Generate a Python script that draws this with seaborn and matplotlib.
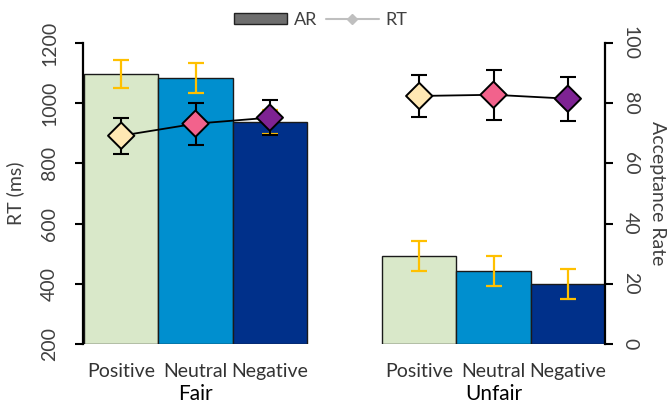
import numpy as np
import pandas as pd
import matplotlib
matplotlib.use("Agg")
import matplotlib.pyplot as plt
import seaborn as sns
from matplotlib.patches import Patch
from matplotlib.lines import Line2D

sns.set_style("white")
plt.rcParams['font.family'] = ['Lato', 'DejaVu Sans']

conditions = ["Fair", "Unfair"]
valences = ["Positive", "Neutral", "Negative"]
ar_fair = [89.7, 88.4, 73.8]
ar_unfair = [29.1, 24.2, 19.9]
ar_err_fair = [4.5, 5.0, 4.0]
ar_err_unfair = [5.0, 5.0, 5.0]
rt_fair = [892, 932, 952]
rt_unfair = [1024, 1028, 1015]
rt_err_fair = [60, 70, 58]
rt_err_unfair = [70, 83, 73]

bar_colors = ["#D9E8C9", "#008FCF", "#00308A"]
marker_colors = ["#FFE8B3", "#F2628C", "#7E2393"]

df = pd.DataFrame({
    "cond": np.repeat(conditions, 3),
    "val": valences * 2,
    "AR": ar_fair + ar_unfair,
    "AR_err": ar_err_fair + ar_err_unfair,
    "RT": rt_fair + rt_unfair,
    "RT_err": rt_err_fair + rt_err_unfair,
})

XLIM = (-0.3775, 1.374)

fig = plt.figure(figsize=(6.7, 4.05), dpi=100)
ax = fig.add_axes([83/670, 1-344/405, (605-83)/670, (344-43)/405])
ax2 = ax.twinx()

sns.barplot(data=df, x="cond", y="AR", hue="val", hue_order=valences,
            palette=bar_colors, saturation=1, width=0.748, edgecolor="#1a1a1a", linewidth=1.0,
            errorbar=None, legend=False, ax=ax, zorder=1)
ax.set_xlim(*XLIM)
ax.set_ylim(0, 100)

patches = [p for p in ax.patches if p.get_height() > 0]
xs_sorted = sorted(p.get_x() + p.get_width() / 2 for p in patches)
df["x"] = xs_sorted

ax.errorbar(df["x"], df["AR"], yerr=df["AR_err"], fmt="none", ecolor="#FFC000",
            elinewidth=1.6, capsize=6, capthick=1.6, zorder=3)

# AR axis on the right
ax.yaxis.set_ticks_position("right")
ax.yaxis.set_label_position("right")
ax.set_yticks([0, 20, 40, 60, 80, 100])
ax.tick_params(axis="y", left=False, labelleft=False, right=True, labelright=True,
               length=6, width=1.5, color="black", labelsize=14, pad=6, labelcolor="#404040")
for t in ax.get_yticklabels():
    t.set_rotation(-90)
    t.set_va("center")
ax.set_ylabel("Acceptance Rate", rotation=-90, labelpad=20, fontsize=14, color="#404040")

ax.set_xticks(df["x"])
ax.set_xticklabels(df["val"], fontsize=14, color="#333333")
ax.tick_params(axis="x", length=0, pad=14)
ax.set_xlabel("")
for c, xg in zip(conditions, [0, 1]):
    ax.text(xg, -0.165, c, transform=ax.get_xaxis_transform(), ha="center", va="center",
            fontsize=15, color="black")

for s in ["top", "left", "bottom"]:
    ax.spines[s].set_visible(False)
ax.spines["right"].set_linewidth(1.6)
ax.spines["right"].set_color("black")

# RT axis on the left
ax2.yaxis.set_ticks_position("left")
ax2.yaxis.set_label_position("left")
ax2.set_ylim(200, 1200)
ax2.set_yticks([200, 400, 600, 800, 1000, 1200])
ax2.tick_params(axis="y", left=True, labelleft=True, right=False, labelright=False,
                length=6, width=1.5, color="black", labelsize=14, pad=12, labelcolor="#404040")
for t in ax2.get_yticklabels():
    t.set_rotation(90)
    t.set_va("center")
ax2.set_ylabel("RT (ms)", fontsize=14, color="#404040", labelpad=12)
for s in ["top", "right", "bottom"]:
    ax2.spines[s].set_visible(False)
ax2.spines["left"].set_linewidth(1.6)
ax2.spines["left"].set_color("black")

for c in conditions:
    sub = df[df["cond"] == c]
    sns.lineplot(x=sub["x"].values, y=sub["RT"].values, color="black", lw=1.3, ax=ax2, zorder=4)
    ax2.errorbar(sub["x"], sub["RT"], yerr=sub["RT_err"], fmt="none", ecolor="black",
                 elinewidth=1.5, capsize=6, capthick=1.5, zorder=4)
    ax2.scatter(sub["x"], sub["RT"], marker="D", s=180, c=marker_colors,
                edgecolors="black", linewidths=1.4, zorder=5)
ax2.set_xlim(*XLIM)
ax2.set_ylim(200, 1200)

handles = [Patch(facecolor="#6E6E6E", edgecolor="#222222", label="AR"),
           Line2D([0], [0], color="#BFBFBF", lw=1.5, marker="D", markersize=5,
                  markerfacecolor="#BFBFBF", markeredgecolor="#BFBFBF", label="RT")]
fig.legend(handles=handles, loc="center", bbox_to_anchor=(321/670, 1-20/405), ncol=2,
           frameon=False, fontsize=13, handlelength=2.9, handleheight=0.5,
           columnspacing=0.5, handletextpad=0.4, labelcolor="#404040")

fig.savefig("out.png", dpi=100)
